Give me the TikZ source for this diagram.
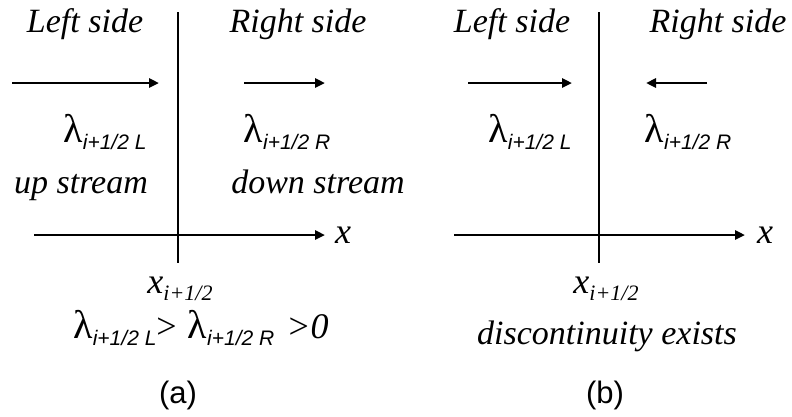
\documentclass[tikz,border=0pt]{standalone}
\usepackage{fontspec}
\setmainfont{Liberation Serif}
\newfontfamily\arsf{Liberation Sans}
\usetikzlibrary{arrows.meta}
\newcommand\lamsub[1]{{\fontsize{40}{40}\selectfont λ}\raisebox{-7pt}{\arsf\itshape\fontsize{21}{21}\selectfont #1}}
\newcommand\xsub{{\itshape\fontsize{36}{36}\selectfont x}\raisebox{-7pt}{\itshape\fontsize{22}{22}\selectfont i+1/2}}
\begin{document}
\begin{tikzpicture}[x=1pt,y=-1pt,
  lbl/.style={inner sep=0pt,anchor=base,font=\fontsize{34}{34}\selectfont\itshape},
  lam/.style={inner sep=0pt,anchor=base},
  captxt/.style={inner sep=0pt,anchor=base,font=\arsf\fontsize{31}{31}\selectfont},
  ln/.style={line width=2.6pt},
  arr/.style={line width=2.6pt,-{Triangle[length=10pt,width=9pt]}}]
\useasboundingbox (0,0) rectangle (792,416);
% ---------- panel (a)
\coordinate (av1) at (178,12); \coordinate (av2) at (178,263);
\coordinate (ax1) at (34,235); \coordinate (ax2) at (325,235);
\coordinate (aa1) at (12,83); \coordinate (aa2) at (159,83);
\coordinate (ab1) at (244,83); \coordinate (ab2) at (325,83);
\draw[ln] (av1) -- (av2);
\draw[arr] (ax1) -- (ax2);
\draw[arr] (aa1) -- (aa2);
\draw[arr] (ab1) -- (ab2);
\node[lbl] (aleft) at (85,32) {Left side};
\node[lbl] (aright) at (298,32) {Right side};
\node[lam] (alamL) at (105,142) {\lamsub{i+1/2 L}};
\node[lam] (alamR) at (287,142) {\lamsub{i+1/2 R}};
\node[lbl] (aup) at (81,193) {up stream};
\node[lbl] (adown) at (318,193) {down stream};
\node[lbl,font=\fontsize{36}{36}\selectfont\itshape] (ax) at (343,243) {x};
\node[lam] (axi) at (180,293) {\xsub};
\node[lam] (aineq) at (201,338) {\lamsub{i+1/2 L}{\fontsize{36}{36}\selectfont >}\hspace{11pt}\lamsub{i+1/2 R}\hspace{12pt}{\fontsize{36}{36}\selectfont\itshape>0}};
\node[captxt] (acap) at (178,403) {(a)};
% ---------- panel (b)
\coordinate (bv1) at (599,12); \coordinate (bv2) at (599,263);
\coordinate (bx1) at (454,235); \coordinate (bx2) at (745,235);
\coordinate (ba1) at (468,83); \coordinate (ba2) at (572,83);
\coordinate (bb1) at (707,83); \coordinate (bb2) at (646,83);
\draw[ln] (bv1) -- (bv2);
\draw[arr] (bx1) -- (bx2);
\draw[arr] (ba1) -- (ba2);
\draw[arr] (bb1) -- (bb2);
\node[lbl] (bleft) at (512,32) {Left side};
\node[lbl] (bright) at (718,32) {Right side};
\node[lam] (blamL) at (530,142) {\lamsub{i+1/2 L}};
\node[lam] (blamR) at (688,142) {\lamsub{i+1/2 R}};
\node[lbl,font=\fontsize{36}{36}\selectfont\itshape] (bx) at (765,243) {x};
\node[lam] (bxi) at (606,293) {\xsub};
\node[lbl] (bdisc) at (607,344) {discontinuity exists};
\node[captxt] (bcap) at (605,403) {(b)};
\end{tikzpicture}
\end{document}
